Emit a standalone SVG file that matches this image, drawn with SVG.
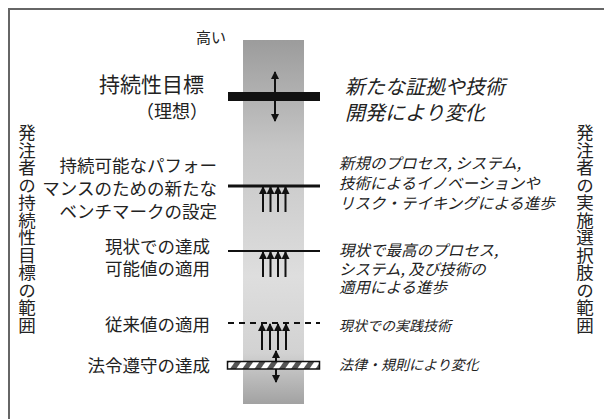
<svg xmlns="http://www.w3.org/2000/svg" width="604" height="419" viewBox="0 0 604 419">
<style>
.jp{font-family:"Noto Sans CJK JP","Noto Sans",sans-serif;fill:#222;}
.l{font-size:17.5px;text-anchor:end;}
.r{font-size:15.5px;font-style:italic;}
.rs{font-size:14px;font-style:italic;}
.v{font-size:17.5px;writing-mode:vertical-rl;}
.shaft{stroke:#111;stroke-width:2;fill:none;}
</style>
<defs>
<linearGradient id="bar" gradientUnits="userSpaceOnUse" x1="0" y1="40" x2="0" y2="404">
<stop offset="0" stop-color="#9c9c9c"/>
<stop offset="0.3" stop-color="#c6c6c6"/>
<stop offset="0.65" stop-color="#dedede"/>
<stop offset="0.86" stop-color="#d2d2d2"/>
<stop offset="1" stop-color="#a2a2a2"/>
</linearGradient>
<pattern id="hatch" patternUnits="userSpaceOnUse" width="10" height="10" patternTransform="rotate(35)">
<rect width="10" height="10" fill="#fff"/>
<rect width="5" height="10" fill="#555"/>
</pattern>
<marker id="ah" markerUnits="userSpaceOnUse" markerWidth="8" markerHeight="8" refX="7" refY="4" orient="auto">
<path d="M0,0 L8,4 L0,8 z" fill="#111"/>
</marker>
</defs>
<rect width="604" height="419" fill="#fff"/>
<g id="frame">
<path d="M9,419 V9 H604" fill="none" stroke="#666" stroke-width="2"/>
</g>
<g id="scale-bar">
<rect x="243" y="40" width="61" height="364" fill="url(#bar)"/>
<text class="jp" x="226" y="43" font-size="15" text-anchor="end">高い</text>
</g>
<g id="connectors">
<line class="shaft" x1="275" y1="96" x2="275" y2="72" marker-end="url(#ah)"/>
<line class="shaft" x1="275" y1="96" x2="275" y2="121" marker-end="url(#ah)"/>
<line class="shaft" x1="263" y1="212" x2="263" y2="187" marker-end="url(#ah)"/>
<line class="shaft" x1="270.5" y1="212" x2="270.5" y2="187" marker-end="url(#ah)"/>
<line class="shaft" x1="278" y1="212" x2="278" y2="187" marker-end="url(#ah)"/>
<line class="shaft" x1="285.5" y1="212" x2="285.5" y2="187" marker-end="url(#ah)"/>
<line class="shaft" x1="263" y1="277" x2="263" y2="252" marker-end="url(#ah)"/>
<line class="shaft" x1="270.5" y1="277" x2="270.5" y2="252" marker-end="url(#ah)"/>
<line class="shaft" x1="278" y1="277" x2="278" y2="252" marker-end="url(#ah)"/>
<line class="shaft" x1="285.5" y1="277" x2="285.5" y2="252" marker-end="url(#ah)"/>
<line class="shaft" x1="262" y1="350" x2="262" y2="324" marker-end="url(#ah)"/>
<line class="shaft" x1="270" y1="350" x2="270" y2="324" marker-end="url(#ah)"/>
<line class="shaft" x1="278" y1="350" x2="278" y2="324" marker-end="url(#ah)"/>
<line class="shaft" x1="286" y1="350" x2="286" y2="324" marker-end="url(#ah)"/>
<line class="shaft" x1="276" y1="361" x2="276" y2="351" marker-end="url(#ah)"/>
<line class="shaft" x1="276" y1="369" x2="276" y2="382" marker-end="url(#ah)"/>
</g>
<g id="ideal">
<rect x="228" y="92" width="92" height="9" fill="#111"/>
<text class="jp" x="204" y="92" font-size="21" text-anchor="end">持続性目標</text>
<text class="jp" x="208" y="118" font-size="18" text-anchor="end">（理想）</text>
<text class="jp" x="345" y="94" font-size="20" font-style="italic">新たな証拠や技術</text>
<text class="jp" x="345" y="120" font-size="20" font-style="italic">開発により変化</text>
</g>
<g id="benchmark">
<rect x="228" y="184.5" width="92" height="3" fill="#111"/>
<text class="jp l" x="217" y="171.5">持続可能なパフォー</text>
<text class="jp l" x="217" y="194.5">マンスのための新たな</text>
<text class="jp l" x="217" y="217.5">ベンチマークの設定</text>
<text class="jp r" x="339" y="169">新規のプロセス, システム,</text>
<text class="jp r" x="339" y="189">技術によるイノベーションや</text>
<text class="jp r" x="339" y="209">リスク・テイキングによる進歩</text>
</g>
<g id="best-practice">
<rect x="228" y="250" width="92" height="2" fill="#111"/>
<text class="jp l" x="210" y="252.5">現状での達成</text>
<text class="jp l" x="210" y="274.5">可能値の適用</text>
<text class="jp r" x="339" y="256">現状で最高のプロセス,</text>
<text class="jp r" x="339" y="274.5">システム, 及び技術の</text>
<text class="jp r" x="339" y="293">適用による進歩</text>
</g>
<g id="conventional">
<line x1="228" y1="323" x2="320" y2="323" stroke="#111" stroke-width="2" stroke-dasharray="6 5"/>
<text class="jp l" x="210" y="330.5">従来値の適用</text>
<text class="jp rs" x="339" y="331">現状での実践技術</text>
</g>
<g id="compliance">
<rect x="227.5" y="361.5" width="92" height="7.5" fill="url(#hatch)" stroke="#111" stroke-width="1.5"/>
<text class="jp l" x="210" y="371.5">法令遵守の達成</text>
<text class="jp rs" x="339" y="370">法律・規則により変化</text>
</g>
<g id="owner-goal-range">
<text class="jp v" x="27" y="124">発注者の持続性目標の範囲</text>
</g>
<g id="owner-option-range">
<text class="jp v" x="585" y="124">発注者の実施選択肢の範囲</text>
</g>
</svg>
